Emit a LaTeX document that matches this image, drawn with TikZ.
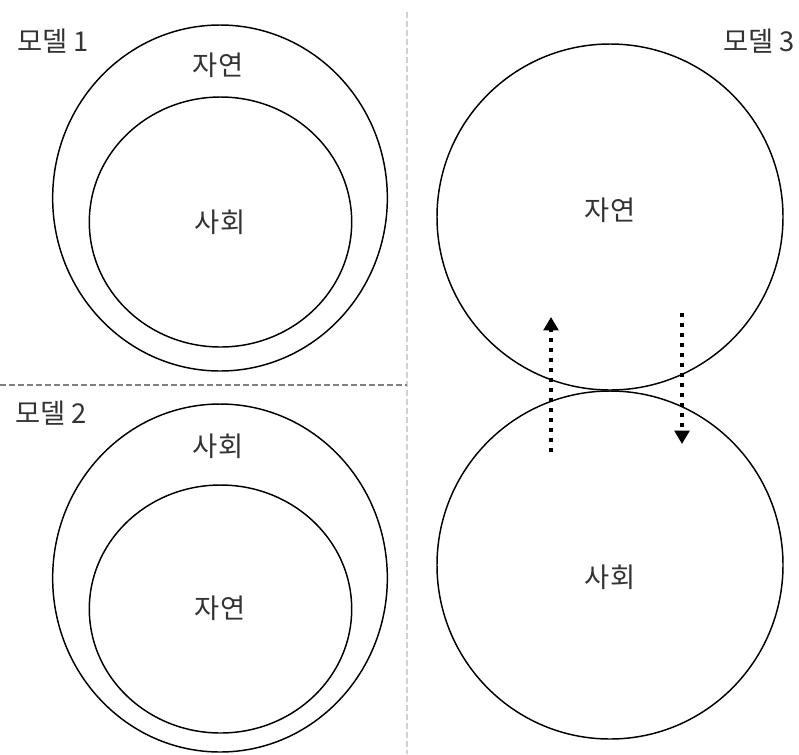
\documentclass[tikz,border=0pt]{standalone}
\usepackage{fontspec}
\setmainfont{Noto Sans CJK KR}
\usetikzlibrary{arrows.meta,shapes.geometric}
\tikzset{
  ring/.style={draw=black, line width=1.1pt, ellipse, inner sep=0pt},
  lbl/.style={font=\fontsize{20.5}{22}\selectfont, inner sep=0pt, text=black!80},
  ttl/.style={font=\fontsize{20.5}{22}\selectfont, inner sep=0pt, text=black!80},
  flow/.style={line width=3.3pt, dash pattern=on 3.3pt off 4.2pt,
    -{Triangle[width=11pt,length=10pt]}},
  sepv/.style={draw=black!18, line width=0.8pt, dash pattern=on 4.5pt off 2.25pt},
  seph/.style={draw=black!50, line width=0.8pt, dash pattern=on 4.5pt off 2.25pt}
}
\begin{document}
\begin{tikzpicture}[x=0.75pt,y=-0.75pt]
\useasboundingbox (0,0) rectangle (799,754);
% separators
\coordinate (vt) at (407,12);
\coordinate (vb) at (407,754);
\coordinate (hl) at (0,385);
\coordinate (hr) at (407,385);
\draw[sepv] (vt) -- (vb);
\draw[seph] (hl) -- (hr);
% model 1
\node[ring, minimum width=251pt, minimum height=259.5pt] (m1out) at (220,198) {};
\node[ring, minimum width=196.8pt, minimum height=187.5pt] (m1in) at (220.5,222) {};
\node[ttl] (t1) at (53,41) {모델 1};
\node[lbl] (m1a) at (218,65) {자연};
\node[lbl] (m1b) at (220,222) {사회};
% model 2
\node[ring, minimum width=251pt, minimum height=261pt] (m2out) at (220,578) {};
\node[ring, minimum width=196.8pt, minimum height=186pt] (m2in) at (220.5,609) {};
\node[ttl] (t2) at (51,413) {모델 2};
\node[lbl] (m2a) at (218,446) {사회};
\node[lbl] (m2b) at (220,608) {자연};
% model 3
\node[ring, minimum width=259.5pt, minimum height=259.5pt] (m3top) at (610,217) {};
\node[ring, minimum width=259.5pt, minimum height=261pt] (m3bot) at (610,565) {};
\node[ttl] (t3) at (759,41) {모델 3};
\node[lbl] (m3a) at (610,210) {자연};
\node[lbl] (m3b) at (610,577) {사회};
% arrows
\coordinate (u1) at (551,452);
\coordinate (u2) at (551,317);
\coordinate (d1) at (682,313);
\coordinate (d2) at (682,444);
\draw[flow] (u1) -- (u2);
\draw[flow] (d1) -- (d2);
\end{tikzpicture}
\end{document}
